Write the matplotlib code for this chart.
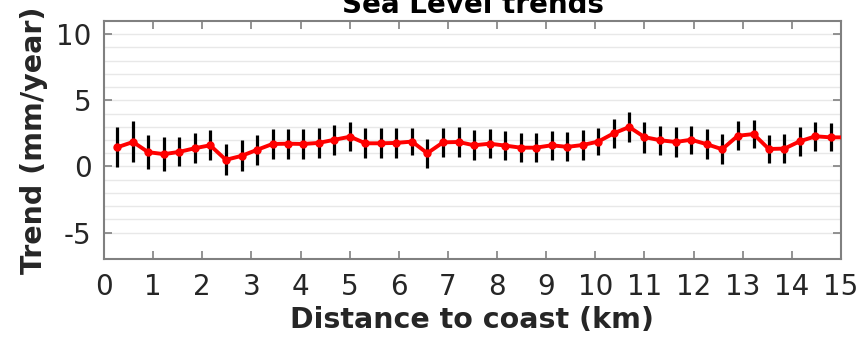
import matplotlib
matplotlib.use("Agg")
import matplotlib.pyplot as plt
from matplotlib.ticker import FixedLocator

distance_km = [0.27, 0.59, 0.90, 1.22, 1.53, 1.85, 2.16, 2.48, 2.80, 3.11,
               3.43, 3.74, 4.06, 4.37, 4.69, 5.01, 5.32, 5.64, 5.95, 6.27,
               6.58, 6.90, 7.22, 7.53, 7.85, 8.16, 8.48, 8.79, 9.11, 9.43,
               9.74, 10.06, 10.37, 10.69, 11.00, 11.32, 11.64, 11.95, 12.27, 12.58,
               12.90, 13.22, 13.53, 13.85, 14.16, 14.48, 14.79, 15.11]
trend = [1.45, 1.85, 1.08, 0.93, 1.10, 1.38, 1.60, 0.50, 0.80, 1.25,
         1.70, 1.72, 1.70, 1.78, 2.02, 2.25, 1.75, 1.75, 1.78, 1.88,
         1.00, 1.82, 1.85, 1.60, 1.72, 1.58, 1.42, 1.42, 1.60, 1.48,
         1.62, 1.88, 2.50, 2.98, 2.22, 1.98, 1.85, 2.02, 1.68, 1.30,
         2.32, 2.45, 1.32, 1.35, 1.90, 2.28, 2.20, 2.20]
trend_err = [1.50, 1.55, 1.30, 1.28, 1.10, 1.15, 1.15, 1.18, 1.17, 1.12,
             1.12, 1.14, 1.13, 1.12, 1.13, 1.10, 1.13, 1.12, 1.12, 1.05,
             1.10, 1.10, 1.10, 1.12, 1.10, 1.10, 1.10, 1.10, 1.10, 1.10,
             1.10, 1.05, 1.10, 1.12, 1.17, 1.10, 1.10, 1.07, 1.12, 1.12,
             1.08, 1.06, 1.05, 1.10, 1.10, 1.10, 1.05, 1.05]
x_ticks = list(range(0, 16))
y_ticks = [-5, 0, 5, 10]
y_tick_labels = ['-5', '0', '5', '10']
y_minor = list(range(-5, 11))

plt.rcParams['font.family'] = ['DejaVu Sans']

fig = plt.figure(figsize=(8.62, 3.38), dpi=100)
ax = fig.add_axes([104/862, 1-259/338, (841-104)/862, (259-21)/338])

ax.errorbar(distance_km, trend, yerr=trend_err, fmt='none', ecolor='black',
            elinewidth=2.3, capsize=0, zorder=3, clip_on=True)
ax.plot(distance_km, trend, color='#ff0000', lw=2.8, marker='o', ms=5,
        zorder=4, clip_on=True)

ax.set_xlim(0, 15)
ax.set_ylim(-7, 11)
ax.xaxis.set_major_locator(FixedLocator(x_ticks))
ax.yaxis.set_major_locator(FixedLocator(y_ticks))
ax.yaxis.set_minor_locator(FixedLocator(y_minor))

ax.grid(False)
ax.yaxis.grid(True, which='both', color='#e8e8e8', lw=1.0, zorder=0)
ax.set_axisbelow(True)

ax.tick_params(axis='both', which='major', direction='in', length=6, width=1.2,
               color='#808080', labelcolor='#262626', labelsize=20, pad=9,
               top=True, right=True)
ax.tick_params(axis='y', which='minor', length=0, left=False, right=False)
ax.tick_params(axis='x', which='major', pad=10)
ax.set_yticklabels(y_tick_labels)

for s in ax.spines.values():
    s.set_color('#808080')
    s.set_linewidth(1.5)

ax.set_xlabel('Distance to coast (km)', fontsize=20.5, fontweight='bold',
              color='#262626', labelpad=4)
ax.set_ylabel('Trend (mm/year)', fontsize=20.5, fontweight='bold',
              color='#262626', labelpad=6)
ax.set_title('Sea Level trends', fontsize=20, fontweight='bold',
             color='black', pad=6)

fig.savefig('out.png', dpi=100)
